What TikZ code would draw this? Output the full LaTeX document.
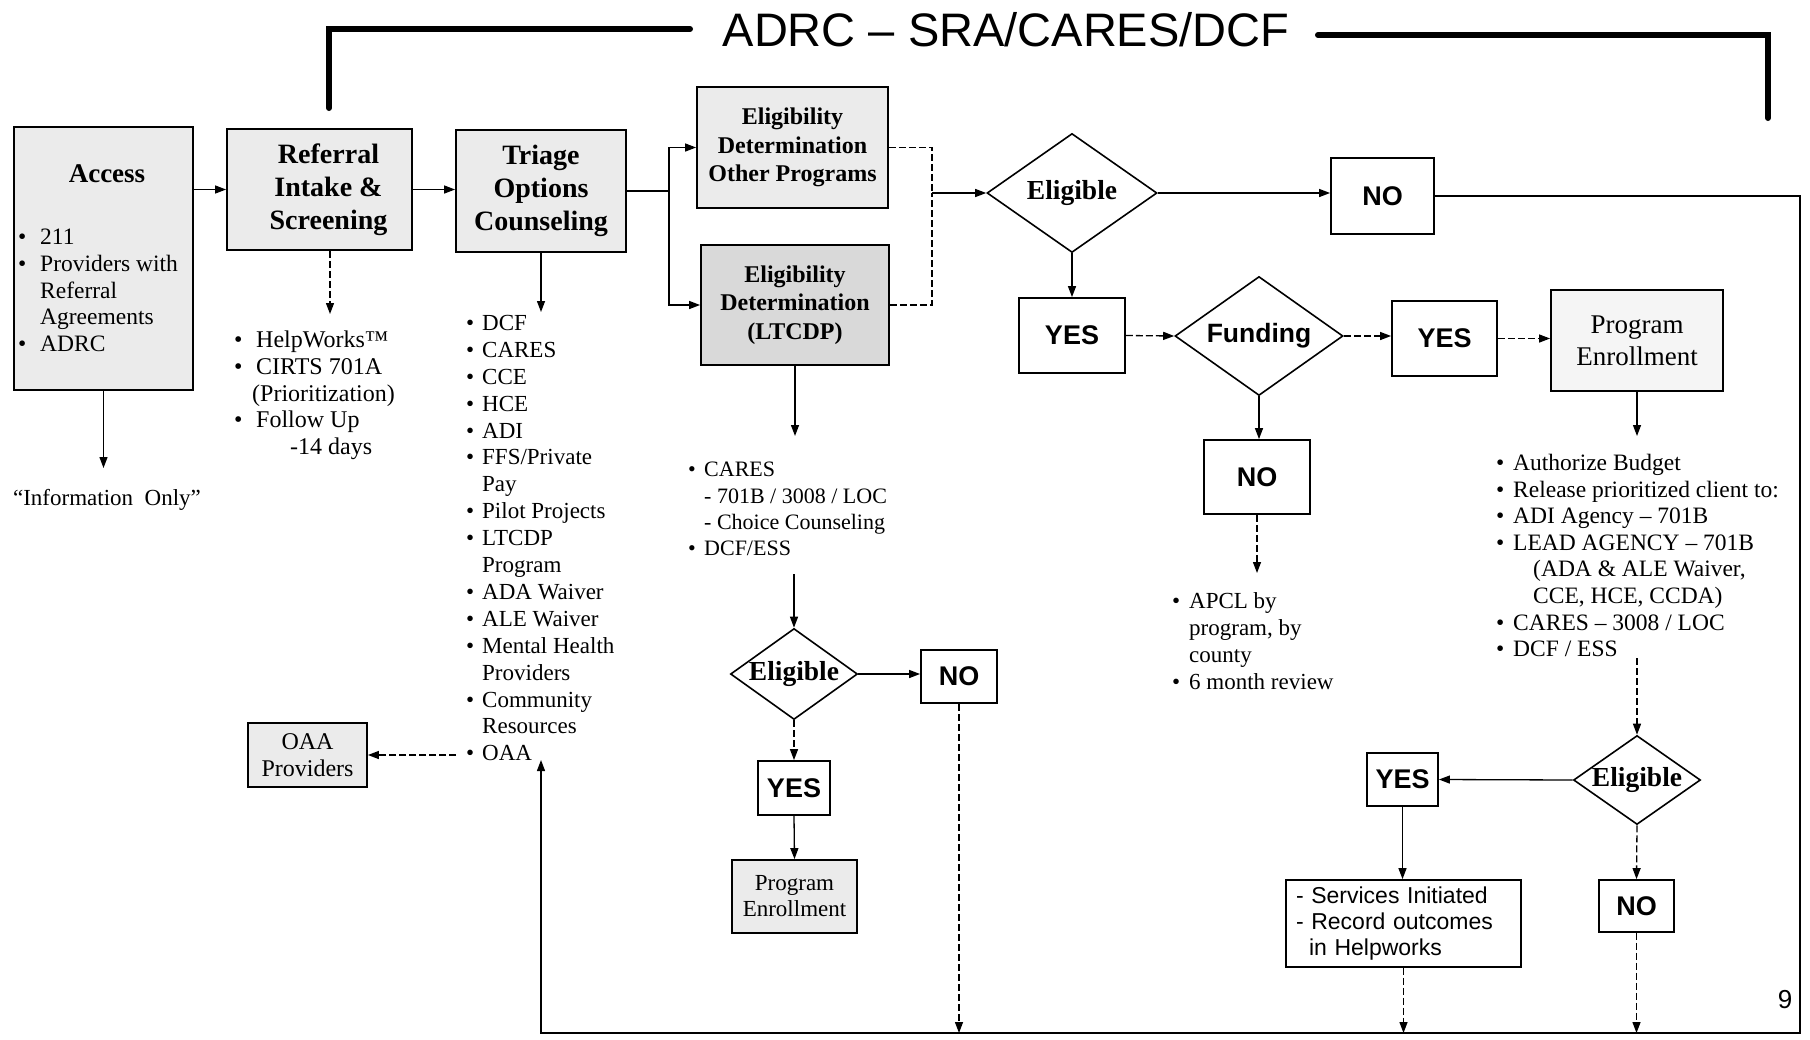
\documentclass[tikz,border=0pt]{standalone}
\usepackage{fontspec}
\setmainfont{Liberation Serif}
\newfontfamily\arialf{Liberation Sans}
\usetikzlibrary{shapes.geometric,arrows.meta}
\newcommand\bl[2][16pt]{\makebox[#1][l]{•}#2}
\newcommand\cont[2][16pt]{\hspace*{#1}#2}
\newcommand\rsh{\hspace*{18pt}}
\begin{document}
\begin{tikzpicture}[x=1pt,y=-1pt,
  box/.style={draw, line width=1.8pt, inner sep=0pt, align=center, fill=white},
  shd/.style={fill=black!8},
  shdb/.style={fill=black!15},
  shdc/.style={fill=black!4},
  dia/.style={draw, diamond, line width=1.6pt, inner sep=0pt, fill=white},
  con/.style={line width=1.3pt},
  arr/.style={con, -{Triangle[length=11pt,width=8pt]}},
  dsh/.style={dash pattern=on 7pt off 3pt},
  heavy/.style={line width=6pt, line cap=round},
  list/.style={anchor=north west, align=left, inner sep=0pt},
  ttl/.style={font=\fontsize{28}{33}\selectfont\bfseries},
  ttlb/.style={font=\fontsize{24}{28.5}\selectfont\bfseries},
  elg/.style={font=\fontsize{27.5}{30}\selectfont\bfseries},
  sfb/.style={font=\arialf\bfseries\fontsize{27}{30}\selectfont},
]
\fill[white] (0,0) rectangle (1810,1039);
\useasboundingbox (0,0) rectangle (1810,1039);

% title and heavy bracket
\node[anchor=base, inner sep=0pt, font=\arialf\fontsize{47}{50}\selectfont] (title) at (1006,46) {ADRC – SRA/CARES/DCF};
\coordinate (tl1) at (329,108); \coordinate (tl2) at (329,29); \coordinate (tl3) at (690,29);
\coordinate (tr1) at (1318,35); \coordinate (tr2) at (1768,35); \coordinate (tr3) at (1768,118);
\draw[heavy] (tl1) -- (tl2) -- (tl3);
\draw[heavy] (tr1) -- (tr2) -- (tr3);

% left column
\node[box,shd,minimum width=179,minimum height=263] (access) at (103.5,258.5) {};
\node[font=\fontsize{27}{30}\selectfont\bfseries, inner sep=0pt] (accesst) at (107,174) {Access};
\node[list, font=\fontsize{23.5}{26.7}\selectfont] (accessl) at (18,229) {\bl[22pt]{211}\\ \bl[22pt]{Providers with}\\ \cont[22pt]{Referral}\\ \cont[22pt]{Agreements}\\ \bl[22pt]{ADRC}};
\node[inner sep=0pt, font=\fontsize{23}{26}\selectfont] (info) at (107,500) {“Information\ \ Only”};

\node[box,shd,minimum width=185,minimum height=121,ttl] (referral) at (319.5,189.5) {\rsh Referral\\\rsh Intake \&\\\rsh Screening};
\node[list, font=\fontsize{24}{26.6}\selectfont] (refl) at (234,331) {\bl[22pt]{HelpWorks™}\\ \bl[22pt]{CIRTS 701A}\\ \cont[18pt]{(Prioritization)}\\ \bl[22pt]{Follow Up}\\ \cont[56pt]{-14 days}};

\node[box,shd,minimum width=170,minimum height=122,ttl] (triage) at (541,191) {Triage\\Options\\Counseling};
\node[list, font=\fontsize{23}{26.9}\selectfont] (tril) at (466,315) {\bl{DCF}\\ \bl{CARES}\\ \bl{CCE}\\ \bl{HCE}\\ \bl{ADI}\\ \bl{FFS/Private}\\ \cont{Pay}\\ \bl{Pilot Projects}\\ \bl{LTCDP}\\ \cont{Program}\\ \bl{ADA Waiver}\\ \bl{ALE Waiver}\\ \bl{Mental Health}\\ \cont{Providers}\\ \bl{Community}\\ \cont{Resources}\\ \bl{OAA}};
\node[box,shd,minimum width=119,minimum height=64,font=\fontsize{24}{27}\selectfont] (oaa) at (307.5,755) {OAA\\Providers};

% eligibility determination column
\node[box,shd,minimum width=191,minimum height=121,ttlb] (elother) at (792.5,147.5) {Eligibility\\Determination\\Other Programs};
\node[box,shdb,minimum width=188,minimum height=120,ttlb] (elltc) at (795,305) {Eligibility\\Determination\\(LTCDP)};
\node[list, font=\fontsize{22}{26.4}\selectfont] (ltcl) at (688,462) {\bl{CARES}\\ \cont{- 701B / 3008 / LOC}\\ \cont{- Choice Counseling}\\ \bl{DCF/ESS}};
\node[dia,minimum width=127,minimum height=91,elg] (elig2) at (794,674) {\makebox[0pt]{Eligible}};
\node[box,minimum width=76,minimum height=53,sfb] (no4) at (959,676.5) {NO};
\node[box,minimum width=72,minimum height=54,sfb] (yes4) at (794,788) {YES};
\node[box,shd,minimum width=125,minimum height=73,font=\fontsize{23}{26}\selectfont] (pe2) at (794.5,896.5) {Program\\Enrollment};

% upper right flow
\node[dia,minimum width=170,minimum height=119,elg] (elig1) at (1072,193) {\makebox[0pt]{Eligible}};
\node[box,minimum width=103,minimum height=76,sfb] (no1) at (1382.5,196) {NO};
\node[box,minimum width=106,minimum height=75,sfb] (yes1) at (1072,335.5) {YES};
\node[dia,minimum width=168,minimum height=119,font=\arialf\bfseries\fontsize{26.5}{30}\selectfont] (funding) at (1259,336) {\makebox[0pt]{Funding}};
\node[box,minimum width=105,minimum height=75,sfb] (yes2) at (1444.5,338.5) {YES};
\node[box,shdc,minimum width=172,minimum height=101,font=\fontsize{27}{32}\selectfont] (pe1) at (1637,340.5) {Program\\Enrollment};
\node[box,minimum width=106,minimum height=74,sfb] (no2) at (1257,477) {NO};
\node[list, font=\fontsize{23}{27}\selectfont] (apcl) at (1172,592) {\bl[17pt]{APCL by}\\ \cont[17pt]{program, by}\\ \cont[17pt]{county}\\ \bl[17pt]{6 month review}};
\node[list, font=\fontsize{23.5}{26.6}\selectfont] (pel) at (1496,454) {\bl[17pt]{Authorize Budget}\\ \bl[17pt]{Release prioritized client to:}\\ \bl[17pt]{ADI Agency – 701B}\\ \bl[17pt]{LEAD AGENCY – 701B}\\ \cont[37pt]{(ADA \& ALE Waiver,}\\ \cont[37pt]{CCE, HCE, CCDA)}\\ \bl[17pt]{CARES – 3008 / LOC}\\ \bl[17pt]{DCF / ESS}};
\node[dia,minimum width=127,minimum height=89,elg] (elig3) at (1637,780) {\makebox[0pt]{Eligible}};
\node[box,minimum width=71,minimum height=53,sfb] (yes3) at (1402.5,779.5) {YES};
\node[box,minimum width=75,minimum height=52,sfb] (no3) at (1636.5,906) {NO};
\node[box,minimum width=235,minimum height=87,text width=215,align=left,font=\arialf\fontsize{23}{26}\selectfont] (serv) at (1403.5,923.5) {- Services Initiated\\- Record outcomes\\\hspace*{13pt}in Helpworks};
\node[inner sep=0pt, font=\arialf\fontsize{26}{28}\selectfont] (pnum) at (1785,1000) {9};

% coordinates
\coordinate (jl) at (669,191);
\coordinate (jr) at (932,193);
\coordinate (br) at (1800,1033);
\coordinate (bll) at (541,1033);
\coordinate (oaaup) at (541,760);
\coordinate (oaatxt) at (456,755);
\coordinate (accout) at (103.5,468);
\coordinate (refout) at (330,314);
\coordinate (triout) at (541,312);
\coordinate (ltcout) at (795,436);
\coordinate (ltclst) at (794,574);
\coordinate (apclin) at (1257,573);
\coordinate (pe1out) at (1637,436);
\coordinate (pe1lst) at (1637,658);

% connectors
\draw[arr] (access.east |- referral.west) -- (referral.west);
\draw[arr] (referral.east) -- (referral.east -| triage.west);
\draw[con] (triage.east |- jl) -- (jl);
\draw[arr] (jl) |- (elother.west);
\draw[arr] (jl) |- (elltc.west);
\draw[con,dsh] (elother.east) -| (jr);
\draw[con,dsh] (elltc.east) -| (jr);
\draw[arr] (jr) -- (elig1.west);
\draw[arr] (elig1.east) -- (elig1.east -| no1.west);
\draw[arr] (no1.east) -| (br) -- (bll) -- (oaaup);
\draw[arr] (elig1.south) -- (yes1.north);
\draw[arr,dsh] (yes1.east) -- (funding.west);
\draw[arr,dsh] (funding.east) -- (funding.east -| yes2.west);
\draw[arr,dsh] (yes2.east) -- (yes2.east -| pe1.west);
\draw[arr] (funding.south) -- (funding.south |- no2.north);
\draw[arr,dsh] (no2.south) -- (apclin);
\draw[arr] (pe1.south) -- (pe1out);
\draw[arr,dsh] (pe1lst) -- (elig3.north);
\draw[arr] (elig3.west) -- (yes3.east);
\draw[arr,dsh] (elig3.south) -- (no3.north);
\draw[arr] (yes3.south) -- (yes3.south |- serv.north);
\draw[arr,dsh] (serv.south) -- (serv.south |- br);
\draw[arr,dsh] (no3.south) -- (no3.south |- br);
\draw[arr] (elltc.south) -- (ltcout);
\draw[arr] (ltclst) -- (elig2.north);
\draw[arr] (elig2.east) -- (elig2.east -| no4.west);
\draw[arr,dsh] (elig2.south) -- (yes4.north);
\draw[arr] (yes4.south) -- (pe2.north);
\draw[arr,dsh] (no4.south) -- (no4.south |- br);
\draw[arr,dsh] (referral.south -| refout) -- (refout);
\draw[arr] (triage.south) -- (triout);
\draw[arr,dsh] (oaatxt) -- (oaa.east);
\draw[arr] (access.south) -- (accout);
\end{tikzpicture}
\end{document}
